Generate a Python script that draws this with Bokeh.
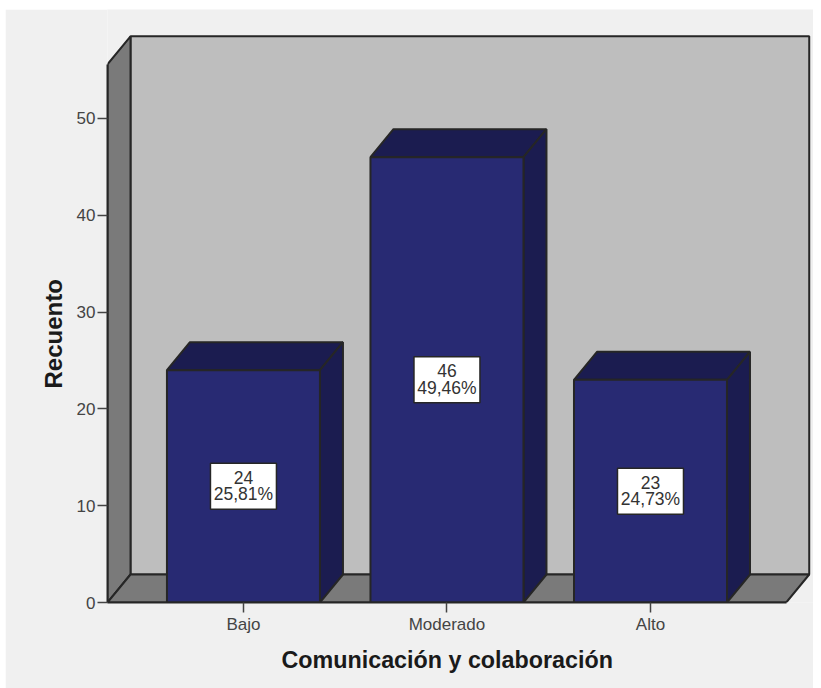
from bokeh.plotting import figure
from bokeh.models import Range1d, FixedTicker, Title
from bokeh.core.properties import value
from bokeh.embed import file_html
from bokeh.resources import INLINE

categories = ["Bajo", "Moderado", "Alto"]
counts = [24, 46, 23]
percents = ["25,81%", "49,46%", "24,73%"]
y_ticks = [0, 10, 20, 30, 40, 50]
x_title = "Comunicación y colaboración"
y_title = "Recuento"

FONT = "Liberation Sans"
LINE = "#262626"
BG = "#f0f0f0"
WALL = "#bebebe"
SIDE = "#7a7a7a"
BAR = "#282a73"
BAR_DARK = "#1b1c50"

# axis extents in data units
X0, X1 = -0.668, 2.801
Y0, Y1 = 0.0, 61.26
DX, DY = 23 / 203.5, 28 / 9.68      # oblique depth of the 3-D box
HALF = 76.5 / 203.5                 # half bar width
BOX_L = X0                          # front-left edge of the box
BOX_R = 2.667                       # front-right edge of the floor
BOX_T = 55.6                        # front-top of the box

xs = list(range(len(categories)))

p = figure(width=808, height=679, output_backend="svg", toolbar_location=None,
           x_range=Range1d(X0, X1), y_range=Range1d(Y0, Y1),
           min_border_left=102, min_border_right=0, min_border_top=0, min_border_bottom=86,
           border_fill_color=BG, background_fill_color=BG, outline_line_color=None,
           margin=(9, 0, 0, 5))
p.grid.visible = False

# back wall, left wall, floor
p.patch([BOX_L + DX, BOX_R + DX, BOX_R + DX, BOX_L + DX], [DY, DY, BOX_T + DY, BOX_T + DY],
        fill_color=WALL, line_color=LINE, line_width=2)
p.patch([BOX_L, BOX_L + DX, BOX_L + DX, BOX_L], [0, DY, BOX_T + DY, BOX_T],
        fill_color=SIDE, line_color=LINE, line_width=2)
p.patch([BOX_L, BOX_L + DX, BOX_R + DX, BOX_R], [0, DY, DY, 0],
        fill_color=SIDE, line_color=LINE, line_width=2)

# bars: top face, side face, front face
for x, c in zip(xs, counts):
    l, r = x - HALF, x + HALF
    p.patch([l, l + DX, r + DX, r], [c, c + DY, c + DY, c],
            fill_color=BAR_DARK, line_color=LINE, line_width=2)
    p.patch([r, r + DX, r + DX, r], [0, DY, c + DY, c],
            fill_color=BAR_DARK, line_color=LINE, line_width=2)
p.vbar(x=xs, top=counts, bottom=0, width=2 * HALF,
       fill_color=BAR, line_color=LINE, line_width=2)

# value boxes
mids = [c / 2 for c in counts]
p.rect(x=xs, y=mids, width=66, height=46, width_units="screen", height_units="screen",
       fill_color="white", line_color=LINE, line_width=1.5)
p.text(x=xs, y=mids, text=[str(c) for c in counts], y_offset=-9,
       text_align="center", text_baseline="middle",
       text_font=value(FONT), text_font_size="17.5px", text_color="#333333")
p.text(x=xs, y=mids, text=percents, y_offset=8,
       text_align="center", text_baseline="middle",
       text_font=value(FONT), text_font_size="17.5px", text_color="#333333")

# axes
p.yaxis.ticker = FixedTicker(ticks=y_ticks)
p.xaxis.ticker = FixedTicker(ticks=xs)
p.xaxis.major_label_overrides = {i: c for i, c in zip(xs, categories)}
p.xaxis.bounds = (BOX_L, BOX_R)
p.yaxis.bounds = (0, BOX_T)
for ax in (p.xaxis[0], p.yaxis[0]):
    ax.axis_line_color = LINE
    ax.axis_line_width = 2
    ax.major_tick_line_color = "#444444"
    ax.major_tick_line_width = 1.5
    ax.major_tick_out = 10
    ax.major_tick_in = 0
    ax.minor_tick_line_color = None
    ax.major_label_text_font = FONT
    ax.major_label_text_font_size = "17px"
    ax.major_label_text_color = "#444444"
    ax.major_label_standoff = 2
p.yaxis.major_label_orientation = "horizontal"

p.add_layout(Title(text=x_title, align="left", offset=174, standoff=17, text_font=FONT,
                   text_font_size="23.3px", text_font_style="bold", text_color="#1a1a1a"), "below")
p.add_layout(Title(text=y_title, align="left", offset=214, standoff=14, text_font=FONT,
                   text_font_size="24px", text_font_style="bold", text_color="#1a1a1a"), "left")

open("out.html", "w").write(file_html(p, INLINE))
